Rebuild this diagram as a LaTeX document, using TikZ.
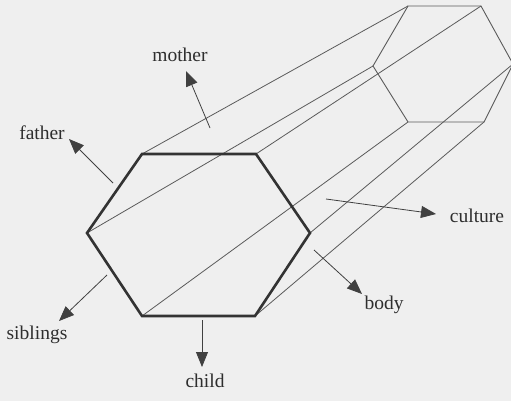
\documentclass[tikz,border=0pt]{standalone}
\usepackage{fontspec}
\setmainfont{Liberation Serif}
\usetikzlibrary{arrows.meta}
\definecolor{bgc}{HTML}{EFEFEF}
\definecolor{thick}{HTML}{333333}
\definecolor{thin}{HTML}{5A5A5A}
\definecolor{arr}{HTML}{404040}
\definecolor{txt}{HTML}{2E2E2E}
\begin{document}
\begin{tikzpicture}[x=1pt,y=-1pt,
  front/.style={draw=thick,line width=2.6pt,line join=miter},
  backedge/.style={draw=thin,line width=0.9pt},
  conn/.style={draw=thin,line width=0.8pt},
  pointer/.style={draw=arr,line width=0.8pt,-{Triangle[length=15pt,width=12pt]}},
  lbl/.style={text=txt,font=\fontsize{19.5}{22}\selectfont,inner sep=0pt}]
\fill[bgc] (0,0) rectangle (511,401);
\useasboundingbox (0,0) rectangle (511,401);
\begin{scope}
\clip (0,0) rectangle (511,401);
% front hexagon vertices
\coordinate (FTL) at (142,154);
\coordinate (FTR) at (256,154);
\coordinate (FR) at (310,233);
\coordinate (FBR) at (255,316);
\coordinate (FBL) at (142,316);
\coordinate (FL) at (87,233);
% back hexagon vertices
\coordinate (BTL) at (408,6);
\coordinate (BTR) at (481,6);
\coordinate (BR) at (513,64);
\coordinate (BBR) at (484,122);
\coordinate (BBL) at (408,122);
\coordinate (BL) at (373,66);
% connectors
\draw[conn] (FTL) -- (BTL);
\draw[conn] (FTR) -- (BTR);
\draw[conn] (FR) -- (BR);
\draw[conn] (FBR) -- (BBR);
\draw[conn] (FBL) -- (BBL);
\draw[conn] (FL) -- (BL);
% back hexagon
\draw[backedge] (BTL) -- (BTR) -- (BR) -- (BBR) -- (BBL) -- (BL) -- cycle;
% front hexagon
\draw[front] (FTL) -- (FTR) -- (FR) -- (FBR) -- (FBL) -- (FL) -- cycle;
\end{scope}
% labels
\node[lbl] (mother) at (180,55) {mother};
\node[lbl] (father) at (42,133) {father};
\node[lbl] (siblings) at (37,335) {siblings};
\node[lbl] (child) at (205,381) {child};
\node[lbl] (body) at (384,305) {body};
\node[lbl] (culture) at (477,216) {culture};
% arrows
\coordinate (mS) at (210,128); \coordinate (mE) at (186,71);
\coordinate (fS) at (113,183); \coordinate (fE) at (69,139);
\coordinate (sS) at (107,275); \coordinate (sE) at (59,321);
\coordinate (cS) at (202,320); \coordinate (cE) at (202,367);
\coordinate (bS) at (314,250); \coordinate (bE) at (362,294);
\coordinate (uS) at (326,199); \coordinate (uE) at (436,214);
\draw[pointer] (mS) -- (mE);
\draw[pointer] (fS) -- (fE);
\draw[pointer] (sS) -- (sE);
\draw[pointer] (cS) -- (cE);
\draw[pointer] (bS) -- (bE);
\draw[pointer] (uS) -- (uE);
\end{tikzpicture}
\end{document}
